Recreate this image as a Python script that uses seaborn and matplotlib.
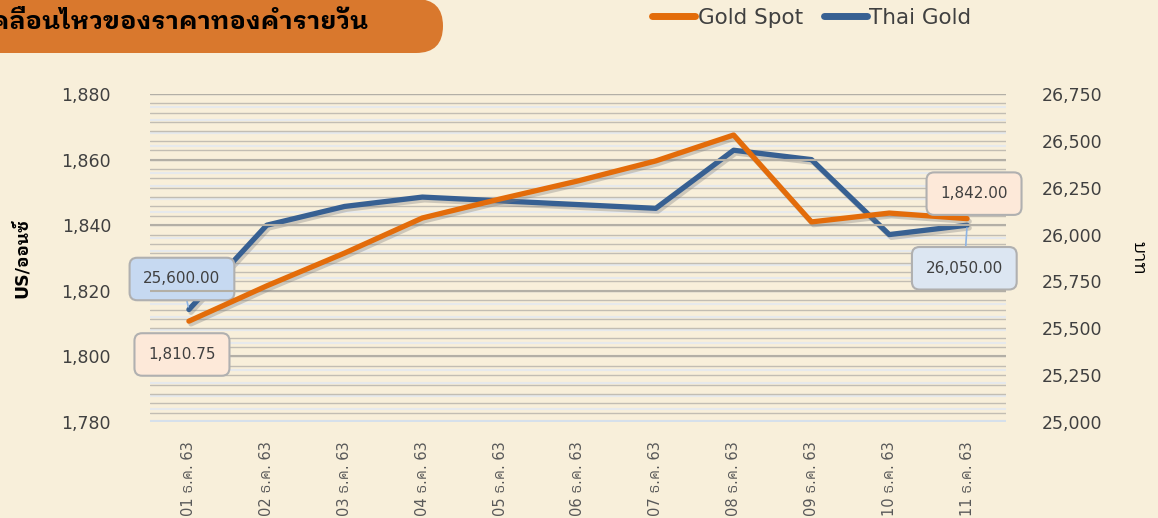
import matplotlib
matplotlib.use("Agg")
import numpy as np
import pandas as pd
import matplotlib.pyplot as plt
import matplotlib.patheffects as pe
from matplotlib.patches import FancyBboxPatch
from matplotlib.lines import Line2D
import seaborn as sns

# data
days = ["01 ธ.ค. 63", "02 ธ.ค. 63", "03 ธ.ค. 63", "04 ธ.ค. 63", "05 ธ.ค. 63", "06 ธ.ค. 63",
        "07 ธ.ค. 63", "08 ธ.ค. 63", "09 ธ.ค. 63", "10 ธ.ค. 63", "11 ธ.ค. 63"]
gold_spot = [1810.75, 1821.5, 1831.5, 1842.2, 1848.0, 1853.5, 1859.6, 1867.5, 1841.0, 1843.7, 1842.00]
thai_gold = [25600, 26050, 26150, 26200, 26180, 26160, 26140, 26450, 26400, 26000, 26050]
left_ticks = [1780, 1800, 1820, 1840, 1860, 1880]
right_ticks = [25000, 25250, 25500, 25750, 26000, 26250, 26500, 26750]

df = pd.DataFrame({"idx": np.arange(len(days)), "day": days,
                   "Gold Spot": gold_spot, "Thai Gold": thai_gold})

BG = "#F8EFDA"
ORANGE = "#E36C0A"
BLUE = "#376092"
TXT = "#404040"

sns.set_style("white")
plt.rcParams["font.family"] = ["DejaVu Sans", "IBM Plex Sans Thai Looped"]

fig = plt.figure(figsize=(11.58, 5.18), dpi=100, facecolor=BG)

# background axes in pixel units for the title banner
bg = fig.add_axes([0, 0, 1, 1], zorder=-5)
bg.set_xlim(0, 1158)
bg.set_ylim(518, 0)
bg.axis("off")
bg.add_patch(FancyBboxPatch((-80, -1), 523, 54, boxstyle="round,pad=0,rounding_size=27",
                            fc="#D9782D", ec="none"))
bg.text(369, 22, "การเคลื่อนไหวของราคาทองคำรายวัน", ha="right", va="center",
        fontsize=18.3, fontweight="bold", color="black", family=["IBM Plex Sans Thai Looped"])

ax = fig.add_axes([150 / 1158, 1 - 422 / 518, 856 / 1158, 328 / 518])
ax2 = ax.twinx()

ax.set_ylim(1780, 1880)
ax2.set_ylim(25000, 26750)
ax.set_xlim(-0.5, len(days) - 0.5)

# grid: light left-axis minors, gray right-axis minors, darker left-axis majors
for v in np.arange(1780, 1881, 4):
    ax2.axhline(25000 + (v - 1780) * 17.5, color="#E6E9EC", lw=1.6, zorder=0.5)
for v in np.arange(25000, 26751, 50):
    ax2.axhline(v, color="#C2BDB3", lw=1.0, zorder=0.6)
for v in left_ticks:
    ax.axhline(v, color="#B3AFA6", lw=1.5, zorder=0.7)
ax.axhline(1780, color="#D6E0EB", lw=3, zorder=0.8)

shadow = [pe.SimpleLineShadow(offset=(1.5, -2), shadow_color="#7F7F7F", alpha=0.35), pe.Normal()]
sns.lineplot(data=df, x="idx", y="Gold Spot", ax=ax, color=ORANGE, lw=3.8, zorder=3,
             path_effects=shadow, legend=False)
sns.lineplot(data=df, x="idx", y="Thai Gold", ax=ax2, color=BLUE, lw=3.8, zorder=3,
             path_effects=shadow, legend=False)
ax.set_zorder(ax2.get_zorder() + 1)
ax.patch.set_visible(False)
ax2.patch.set_visible(False)

for a in (ax, ax2):
    for s in a.spines.values():
        s.set_visible(False)
    a.tick_params(length=0, colors=TXT, labelsize=12.5)

ax.set_yticks(left_ticks)
ax.set_yticklabels([f"{v:,}" for v in left_ticks])
ax.tick_params(axis="y", pad=28)
ax2.set_yticks(right_ticks)
ax2.set_yticklabels([f"{v:,}" for v in right_ticks])
ax2.tick_params(axis="y", pad=26)
ax.set_xticks(df["idx"])
ax.set_xticklabels(days, rotation=90, fontsize=10.5, color="#595959")
ax.tick_params(axis="x", pad=14)
ax.set_xlabel("")
ax.set_ylabel("US/ออนซ์", fontsize=12.5, fontweight="bold", color="black", labelpad=22)
ax2.set_ylabel("บาท", fontsize=13, color="black", rotation=270, labelpad=32)

# data labels on first and last points
box_o = dict(boxstyle="round,pad=0.9,rounding_size=0.5", fc="#FDE9D9", ec="#B0B0B0", lw=1.5)
box_b = dict(boxstyle="round,pad=0.9,rounding_size=0.5", fc="#C6D9F1", ec="#B0B0B0", lw=1.5)
box_b2 = dict(box_b, fc="#DCE6F2")
lead = dict(arrowstyle="-", color="#8EB4E3", lw=1.2, shrinkA=0, shrinkB=2)
ax.annotate(f"{gold_spot[0]:,.2f}", (0, gold_spot[0]), xytext=(-5, -24), textcoords="offset points",
            ha="center", va="center", fontsize=11, color=TXT, bbox=box_o, zorder=5)
ax.annotate(f"{gold_spot[-1]:,.2f}", (len(days) - 1, gold_spot[-1]), xytext=(5, 18),
            textcoords="offset points", ha="center", va="center", fontsize=11, color=TXT,
            bbox=box_o, zorder=5)
ax2.annotate(f"{thai_gold[0]:,.2f}", (0, thai_gold[0]), xytext=(-5, 22), textcoords="offset points",
             ha="center", va="center", fontsize=11, color=TXT, bbox=box_b, arrowprops=lead)
ax2.annotate(f"{thai_gold[-1]:,.2f}", (len(days) - 1, thai_gold[-1]), xytext=(-2, -31),
             textcoords="offset points", ha="center", va="center", fontsize=11, color=TXT,
             bbox=box_b2, arrowprops=lead)

# legend
handles = [Line2D([], [], color=ORANGE, lw=5, solid_capstyle="round"),
           Line2D([], [], color=BLUE, lw=5, solid_capstyle="round")]
fig.legend(handles, ["Gold Spot", "Thai Gold"], loc="center", bbox_to_anchor=(812 / 1158, 1 - 18 / 518),
           ncol=2, frameon=False, fontsize=15.5, handlelength=2.0, handletextpad=0.1,
           columnspacing=1.0, labelcolor=TXT)

fig.savefig("out.png", dpi=100, facecolor=BG)
